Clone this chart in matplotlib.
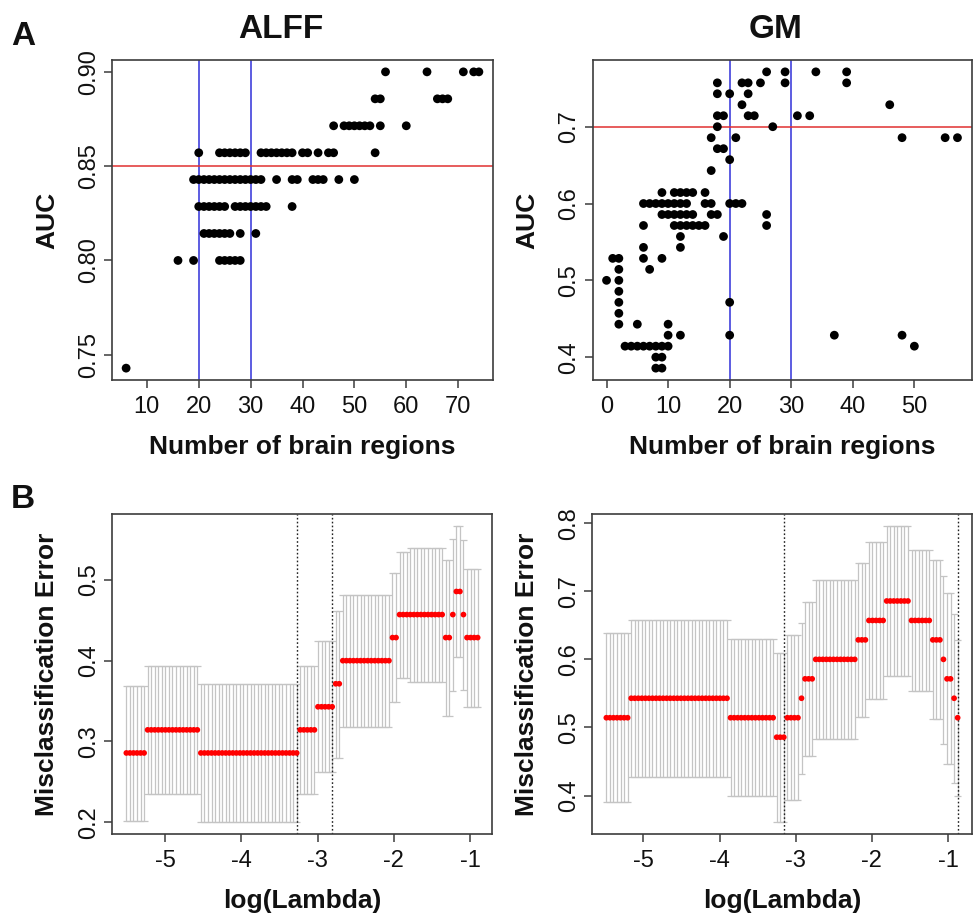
import numpy as np
import matplotlib
matplotlib.use('Agg')
import matplotlib.pyplot as plt

plt.rcParams['font.family'] = ['Liberation Sans', 'DejaVu Sans']

# ---------------- Panel A : ALFF (AUC vs number of regions) ----------------
alff_auc_levels = [0.9000, 0.8857, 0.8714, 0.8571, 0.8429, 0.8286, 0.8143, 0.8000, 0.7429]
alff_regions = [
    [56, 64, 71, 73, 74],
    [54, 55, 66, 67, 68],
    [46, 48, 49, 50, 51, 52, 53, 55, 60],
    [20, 24, 25, 26, 27, 28, 29, 32, 33, 34, 35, 36, 37, 38, 40, 41, 43, 45, 46, 54],
    [19, 20, 21, 22, 23, 24, 25, 26, 27, 28, 29, 30, 31, 32, 35, 38, 39, 42, 43, 44, 47, 50],
    [20, 21, 22, 23, 24, 25, 27, 28, 29, 30, 31, 32, 33, 38],
    [21, 22, 23, 24, 25, 26, 28, 31],
    [16, 19, 24, 25, 26, 27, 28],
    [6],
]
alff_auc_cut = 0.85
alff_region_lines = [20, 30]

# ---------------- Panel A : GM ----------------
gm_auc_levels = [0.7714, 0.7571, 0.7429, 0.7286, 0.7143, 0.7000, 0.6857, 0.6714,
                 0.6571, 0.6429, 0.6143, 0.6000, 0.5857, 0.5714, 0.5571, 0.5429,
                 0.5286, 0.5143, 0.5000, 0.4857, 0.4714, 0.4571, 0.4429, 0.4286,
                 0.4143, 0.4000, 0.3857]
gm_regions = [
    [26, 29, 34, 39],
    [18, 22, 23, 25, 29, 39],
    [18, 20, 23],
    [22, 46],
    [18, 19, 23, 24, 31, 33],
    [18, 27],
    [17, 21, 48, 55, 57],
    [18, 19],
    [20],
    [17],
    [9, 11, 12, 13, 14, 16],
    [6, 7, 8, 9, 10, 11, 12, 13, 16, 17, 20, 21, 22],
    [9, 10, 11, 12, 13, 14, 17, 18, 26],
    [6, 11, 12, 13, 14, 15, 16, 26],
    [12, 19],
    [6, 12],
    [1, 2, 6, 9],
    [2, 7],
    [0, 2],
    [2],
    [2, 20],
    [2],
    [2, 5, 10],
    [10, 12, 20, 37, 48],
    [3, 4, 5, 6, 7, 8, 9, 10, 50],
    [8, 9],
    [8, 9],
]
gm_auc_cut = 0.70
gm_region_lines = [20, 30]

# ---------------- Panel B : cross-validation curves ----------------
alff_loglam_range = (-5.507, -0.902)          # glmnet lambda path, 100 values
alff_seg_count = [6, 15, 28, 5, 5, 2, 14, 2, 3, 10, 2, 1, 2, 1, 4]
alff_seg_mean = [0.2857, 0.3143, 0.2857, 0.3143, 0.3429, 0.3714, 0.4000, 0.4286,
                 0.4571, 0.4571, 0.4286, 0.4571, 0.4857, 0.4571, 0.4286]
alff_seg_up = [0.369, 0.393, 0.371, 0.393, 0.424, 0.461, 0.481, 0.508,
               0.535, 0.539, 0.525, 0.551, 0.567, 0.549, 0.514]
alff_seg_lo = [0.201, 0.235, 0.200, 0.235, 0.262, 0.280, 0.318, 0.349,
               0.379, 0.374, 0.332, 0.363, 0.404, 0.364, 0.343]
alff_lambda_lines = [-3.274, -2.809]

gm_loglam_range = (-5.485, -0.875)
gm_seg_count = [7, 28, 13, 3, 4, 1, 3, 12, 3, 5, 7, 6, 3, 1, 2, 1, 1]
gm_seg_mean = [0.5143, 0.5429, 0.5143, 0.4857, 0.5143, 0.5429, 0.5714, 0.6000, 0.6286,
               0.6571, 0.6857, 0.6571, 0.6286, 0.6000, 0.5714, 0.5429, 0.5143]
gm_seg_up = [0.638, 0.6575, 0.630, 0.610, 0.636, 0.654, 0.684, 0.717, 0.742,
             0.772, 0.796, 0.761, 0.746, 0.723, 0.697, 0.667, 0.629]
gm_seg_lo = [0.390, 0.427, 0.399, 0.361, 0.393, 0.431, 0.458, 0.483, 0.516,
             0.542, 0.576, 0.554, 0.512, 0.476, 0.446, 0.419, 0.400]
gm_lambda_lines = [-3.157, -0.875]

# ---------------- figure ----------------
W, H = 973, 917
fig = plt.figure(figsize=(W / 100, H / 100), dpi=100)
fig.patch.set_facecolor('white')


def add_ax(x0, y0, x1, y1):
    return fig.add_axes([x0 / W, 1 - y1 / H, (x1 - x0) / W, (y1 - y0) / H])


def r_lim(lo, hi):
    d = (hi - lo) * 0.04
    return lo - d, hi + d


FRAME = '#3c3c3c'
TXT = '#111111'


def style(ax, xticks, yticks, yfmt):
    for s in ax.spines.values():
        s.set_color(FRAME)
        s.set_linewidth(1.2)
    ax.set_xticks(xticks, [str(t) for t in xticks])
    ax.set_yticks(yticks, [yfmt % t for t in yticks], rotation=90, va='center')
    ax.tick_params(axis='both', direction='out', length=5.8, width=1.1,
                   color=FRAME, labelsize=17, labelcolor=TXT)
    ax.tick_params(axis='x', pad=6)
    ax.tick_params(axis='y', pad=3)


def scatter_panel(ax, levels, rows, cut, vlines, xticks, yticks, yfmt):
    xs = np.concatenate([np.asarray(r, float) for r in rows])
    ys = np.concatenate([np.full(len(r), lv) for r, lv in zip(rows, levels)])
    for v in vlines:
        ax.axvline(v, color='#3030d8', lw=1.1, zorder=1)
    ax.axhline(cut, color='#e03030', lw=1.1, zorder=1)
    ax.scatter(xs, ys, s=40, color='black', edgecolors='none', zorder=3)
    ax.set_xlim(*r_lim(xs.min(), xs.max()))
    ax.set_ylim(*r_lim(ys.min(), ys.max()))
    style(ax, xticks, yticks, yfmt)
    ax.set_xlabel('Number of brain regions', fontsize=19, fontweight='bold', color=TXT, va='center')
    ax.xaxis.set_label_coords(0.5, -0.21)
    ax.set_ylabel('AUC', fontsize=19, fontweight='bold', color=TXT, va='center')


def cv_panel(ax, lrange, counts, mean, up, lo, vl, xticks, yticks, yfmt):
    n = int(np.sum(counts))
    x = np.linspace(lrange[0], lrange[1], n)
    m = np.repeat(mean, counts)
    u = np.repeat(up, counts)
    l = np.repeat(lo, counts)
    barw = (x.max() - x.min()) * 0.01
    gcol = '#c4c4c4'
    ax.vlines(x, l, u, color=gcol, lw=0.9, zorder=1)
    ax.hlines(u, x - barw, x + barw, color=gcol, lw=0.9, zorder=1)
    ax.hlines(l, x - barw, x + barw, color=gcol, lw=0.9, zorder=1)
    ax.scatter(x, m, s=17, color='#ff0000', edgecolors='none', zorder=3)
    for v in vl:
        ax.axvline(v, color='#202020', lw=1.0, ls=(0, (1.2, 1.6)), zorder=2)
    ax.set_xlim(*r_lim(x.min(), x.max()))
    ax.set_ylim(*r_lim(min(l.min(), m.min()), max(u.max(), m.max())))
    style(ax, xticks, yticks, yfmt)
    ax.set_xlabel('log(Lambda)', fontsize=19, fontweight='bold', color=TXT, va='center')
    ax.xaxis.set_label_coords(0.5, -0.21)
    ax.set_ylabel('Misclassification Error', fontsize=19, fontweight='bold', color=TXT, va='center')


axA1 = add_ax(112, 60, 493, 380)
axA2 = add_ax(592.5, 60, 971.5, 380)
axB1 = add_ax(112.3, 514, 491.7, 834)
axB2 = add_ax(592.3, 514, 971.7, 834)

scatter_panel(axA1, alff_auc_levels, alff_regions, alff_auc_cut, alff_region_lines,
              [10, 20, 30, 40, 50, 60, 70], [0.75, 0.80, 0.85, 0.90], '%.2f')
scatter_panel(axA2, gm_auc_levels, gm_regions, gm_auc_cut, gm_region_lines,
              [0, 10, 20, 30, 40, 50], [0.4, 0.5, 0.6, 0.7], '%.1f')
cv_panel(axB1, alff_loglam_range, alff_seg_count, alff_seg_mean, alff_seg_up, alff_seg_lo,
         alff_lambda_lines, [-5, -4, -3, -2, -1], [0.2, 0.3, 0.4, 0.5], '%.1f')
cv_panel(axB2, gm_loglam_range, gm_seg_count, gm_seg_mean, gm_seg_up, gm_seg_lo,
         gm_lambda_lines, [-5, -4, -3, -2, -1], [0.4, 0.5, 0.6, 0.7, 0.8], '%.1f')

for ax, x0, x1 in [(axA1, 112, 493), (axB1, 112.3, 491.7)]:
    ax.yaxis.set_label_coords((47 - x0) / (x1 - x0), 0.5)
for ax, x0, x1 in [(axA2, 592.5, 971.5), (axB2, 592.3, 971.7)]:
    ax.yaxis.set_label_coords((527 - x0) / (x1 - x0), 0.5)

fig.text(281 / W, 1 - 38 / H, 'ALFF', fontsize=24, fontweight='bold', ha='center', va='baseline', color=TXT)
fig.text(776 / W, 1 - 38 / H, 'GM', fontsize=24, fontweight='bold', ha='center', va='baseline', color=TXT)
fig.text(11 / W, 1 - 45 / H, 'A', fontsize=24, fontweight='bold', ha='left', va='baseline', color=TXT)
fig.text(11 / W, 1 - 508 / H, 'B', fontsize=24, fontweight='bold', ha='left', va='baseline', color=TXT)

fig.savefig('out.png', dpi=100, facecolor='white')
